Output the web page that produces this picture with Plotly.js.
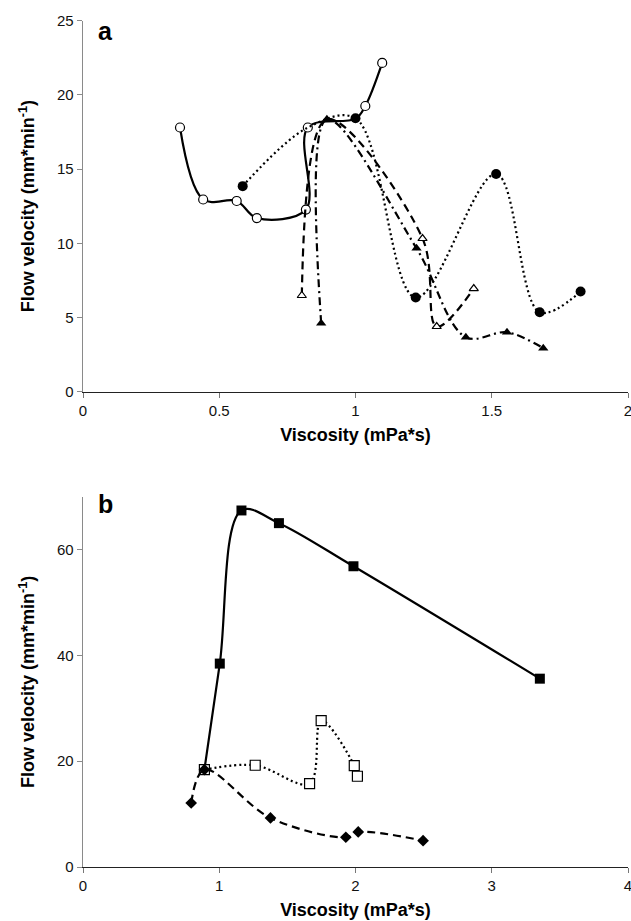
<!DOCTYPE html>
<html>
<head>
<meta charset="utf-8">
<script src="https://cdn.plot.ly/plotly-3.0.1.min.js"></script>
<style>
  html, body { margin: 0; padding: 0; background: #fff; }
  #chart { width: 631px; height: 921px; }
</style>
</head>
<body>
<div id="chart"></div>
<script>
// ---------- Panel a data ----------
const aOpenCircleX = [0.356, 0.441, 0.564, 0.638, 0.818, 0.825, 1.000, 1.036, 1.098];
const aOpenCircleY = [17.8, 12.95, 12.85, 11.7, 12.27, 17.8, 18.4, 19.25, 22.15];
const aOpenCircleShown = [1, 1, 1, 1, 1, 1, 0, 1, 1];

const aFilledCircleX = [0.586, 0.825, 1.000, 1.221, 1.516, 1.676, 1.826];
const aFilledCircleY = [13.85, 17.8, 18.42, 6.34, 14.67, 5.35, 6.75];
const aFilledCircleShown = [1, 0, 1, 1, 1, 1, 1];

const aOpenTriX = [0.803, 0.895, 1.246, 1.298, 1.434];
const aOpenTriY = [6.48, 18.36, 10.32, 4.39, 6.95];
const aOpenTriShown = [1, 0, 1, 1, 1];

const aFilledTriX = [0.874, 0.895, 1.224, 1.405, 1.556, 1.689];
const aFilledTriY = [4.61, 18.36, 9.66, 3.67, 4.0, 2.93];

// ---------- Panel b data ----------
const bFilledSqX = [0.891, 1.004, 1.163, 1.438, 1.985, 3.353];
const bFilledSqY = [18.4, 38.45, 67.4, 65.0, 56.85, 35.6];

const bOpenSqX = [0.891, 1.264, 1.663, 1.748, 1.991, 2.014];
const bOpenSqY = [18.4, 19.23, 15.77, 27.67, 19.17, 17.15];

const bDiamondX = [0.794, 0.891, 1.376, 1.929, 2.020, 2.496];
const bDiamondY = [12.1, 18.4, 9.27, 5.62, 6.63, 4.98];

// ---------- Axis ticks ----------
const aXTicks = [0, 0.5, 1, 1.5, 2];
const aXTickText = ['0', '0.5', '1', '1.5', '2'];
const aYTicks = [0, 5, 10, 15, 20, 25];
const bXTicks = [0, 1, 2, 3, 4];
const bYTicks = [0, 20, 40, 60];

const xTitleText = 'Viscosity (mPa*s)';
const yTitleText = 'Flow velocity (mm*min<sup>-1</sup>)';

const BLACK = '#000';
const sizes = (shown, s) => shown.map(v => v ? s : 0);

const traces = [
  // panel a
  { x: aOpenCircleX, y: aOpenCircleY, xaxis: 'x', yaxis: 'y', mode: 'lines+markers',
    line: { color: BLACK, width: 2.2, shape: 'spline', smoothing: 1 },
    marker: { symbol: 'circle', opacity: 1, size: sizes(aOpenCircleShown, 9), color: '#fff', line: { color: BLACK, width: 1.2 } } },
  { x: aFilledCircleX, y: aFilledCircleY, xaxis: 'x', yaxis: 'y', mode: 'lines+markers',
    line: { color: BLACK, width: 2.2, shape: 'spline', smoothing: 1, dash: '2px,3px' },
    marker: { symbol: 'circle', opacity: 1, size: sizes(aFilledCircleShown, 10), color: BLACK, line: { width: 0 } } },
  { x: aOpenTriX, y: aOpenTriY, xaxis: 'x', yaxis: 'y', mode: 'lines+markers',
    line: { color: BLACK, width: 2.2, shape: 'spline', smoothing: 1, dash: '8px,5px' },
    marker: { symbol: 'triangle-up', opacity: 1, size: sizes(aOpenTriShown, 8), color: '#fff', line: { color: BLACK, width: 1.2 } } },
  { x: aFilledTriX, y: aFilledTriY, xaxis: 'x', yaxis: 'y', mode: 'lines+markers',
    line: { color: BLACK, width: 2.2, shape: 'spline', smoothing: 1, dash: '8px,4px,2px,4px' },
    marker: { symbol: 'triangle-up', opacity: 1, size: 9, color: BLACK, line: { width: 0 } } },
  // panel b
  { x: bFilledSqX, y: bFilledSqY, xaxis: 'x2', yaxis: 'y2', mode: 'lines+markers',
    line: { color: BLACK, width: 2.2, shape: 'spline', smoothing: 1 },
    marker: { symbol: 'square', opacity: 1, size: 10, color: BLACK, line: { width: 0 } } },
  { x: bOpenSqX, y: bOpenSqY, xaxis: 'x2', yaxis: 'y2', mode: 'lines+markers',
    line: { color: BLACK, width: 2.2, shape: 'spline', smoothing: 1, dash: '2px,3px' },
    marker: { symbol: 'square', opacity: 1, size: 10, color: '#fff', line: { color: BLACK, width: 1.2 } } },
  { x: bDiamondX, y: bDiamondY, xaxis: 'x2', yaxis: 'y2', mode: 'lines+markers',
    line: { color: BLACK, width: 2.2, shape: 'spline', smoothing: 1, dash: '8px,5px' },
    marker: { symbol: 'diamond', opacity: 1, size: 9, color: BLACK, line: { width: 0 } } }
];

const tickFont = { family: '"Liberation Sans Narrow", "Liberation Sans", Arial, sans-serif', size: 15, color: '#111' };
const titleFont = { family: '"Liberation Sans Narrow", "Liberation Sans", Arial, sans-serif', size: 18, color: '#000', weight: 'bold' };

function xAxis(range, tickvals, ticktext, anchor) {
  return {
    range: range, tickmode: 'array', tickvals: tickvals, ticktext: ticktext,
    showgrid: false, zeroline: false, showline: true, linecolor: '#222', linewidth: 1.3,
    ticks: 'outside', ticklen: 5, tickcolor: '#777', tickwidth: 1,
    ticklabeloverflow: 'allow',
    tickfont: tickFont, anchor: anchor, fixedrange: true,
    title: { text: xTitleText, font: titleFont, standoff: 10 }
  };
}
function yAxis(range, tickvals, domain, anchor) {
  return {
    range: range, tickmode: 'array', tickvals: tickvals, domain: domain,
    showgrid: false, zeroline: false, showline: true, linecolor: '#8a8a8a', linewidth: 1.3,
    ticks: 'outside', ticklen: 5, tickcolor: '#8a8a8a', tickwidth: 1,
    ticklabeloverflow: 'allow',
    tickfont: tickFont, anchor: anchor, fixedrange: true,
    title: { text: yTitleText, font: titleFont, standoff: 17 }
  };
}

const layout = {
  width: 631, height: 921,
  margin: { l: 83, r: 3, t: 20, b: 54 },
  paper_bgcolor: '#fff', plot_bgcolor: '#fff',
  showlegend: false,
  xaxis: xAxis([0, 2], aXTicks, aXTickText, 'y'),
  yaxis: yAxis([0, 25], aYTicks, [0.5612, 0.9992], 'x'),
  xaxis2: xAxis([0, 4], bXTicks, bXTicks.map(String), 'y2'),
  yaxis2: yAxis([0, 70], bYTicks, [0, 0.4372], 'x2'),
  annotations: [
    { text: '<b>a</b>', xref: 'paper', yref: 'paper', x: 0.024, y: 0.987, xanchor: 'left', yanchor: 'middle',
      showarrow: false, font: { family: '"Liberation Sans", Arial, sans-serif', size: 25, color: '#000' } },
    { text: '<b>b</b>', xref: 'paper', yref: 'paper', x: 0.024, y: 0.4286, xanchor: 'left', yanchor: 'middle',
      showarrow: false, font: { family: '"Liberation Sans", Arial, sans-serif', size: 25, color: '#000' } }
  ]
};

Plotly.newPlot('chart', traces, layout, { staticPlot: true, displayModeBar: false });
</script>
</body>
</html>
